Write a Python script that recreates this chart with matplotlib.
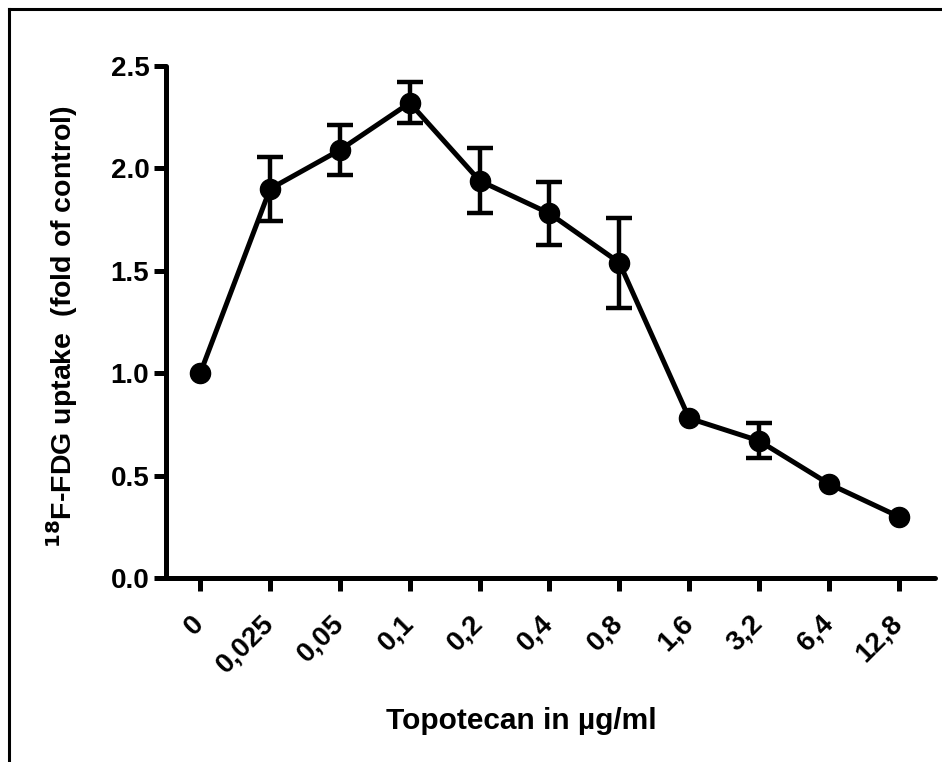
import matplotlib
matplotlib.use("Agg")
import matplotlib.pyplot as plt
from matplotlib.lines import Line2D

# topotecan doses (µg/ml) and FDG uptake relative to control
doses = ["0", "0,025", "0,05", "0,1", "0,2", "0,4", "0,8", "1,6", "3,2", "6,4", "12,8"]
uptake = [1.00, 1.90, 2.09, 2.32, 1.94, 1.78, 1.54, 0.78, 0.67, 0.46, 0.30]
err = [0.0, 0.155, 0.12, 0.10, 0.16, 0.155, 0.22, 0.0, 0.085, 0.0, 0.0]

plt.rcParams['font.family'] = ['Liberation Sans', 'DejaVu Sans']
plt.rcParams['font.weight'] = 'bold'

fig = plt.figure(figsize=(9.42, 7.62), dpi=100)
W, H = 942, 762
ax = fig.add_axes([166 / W, 1 - 578 / H, (935 - 166) / W, (578 - 66) / H])

x = list(range(len(doses)))
ax.plot(x, uptake, color='black', lw=3.6, marker='o', ms=14.5, zorder=3)

# error bars only where the SEM is larger than the marker
xe = [i for i in x if err[i] > 0]
ye = [uptake[i] for i in xe]
ee = [err[i] for i in xe]
ax.errorbar(xe, ye, yerr=ee, fmt='none', ecolor='black', elinewidth=3.2,
            capsize=9.5, capthick=3.2, zorder=2)

ax.set_xlim(-0.49, 10.52)
ax.set_ylim(0, 2.5)
ax.set_yticks([0.0, 0.5, 1.0, 1.5, 2.0, 2.5])
ax.set_yticklabels(["0.0", "0.5", "1.0", "1.5", "2.0", "2.5"])
ax.set_xticks(x)
ax.set_xticklabels(doses, rotation=45, ha='right', va='center', rotation_mode='anchor')

for side in ['top', 'right']:
    ax.spines[side].set_visible(False)
for side in ['left', 'bottom']:
    ax.spines[side].set_linewidth(3.6)
    ax.spines[side].set_capstyle('round')

ax.tick_params(axis='both', direction='out', length=9, width=3.6, labelsize=20)
ax.tick_params(axis='y', pad=3)
ax.tick_params(axis='x', pad=21)

ax.set_xlabel("Topotecan in µg/ml", fontsize=21.5, fontweight='bold')
ax.xaxis.set_label_coords(0.462, -0.252)
ax.set_ylabel(r"$^{\mathbf{18}}$F-FDG uptake  (fold of control)", fontsize=20.5,
              fontweight='bold')
ax.yaxis.set_label_coords(-0.112, 0.49)

# frame around the figure (top and left edges only)
fig.add_artist(Line2D([9 / W, 1.0], [1 - 9 / H, 1 - 9 / H], color='black', lw=2.2,
                      transform=fig.transFigure))
fig.add_artist(Line2D([9 / W, 9 / W], [0.0, 1 - 9 / H], color='black', lw=2.2,
                      transform=fig.transFigure))

fig.savefig("out.png", dpi=100)
